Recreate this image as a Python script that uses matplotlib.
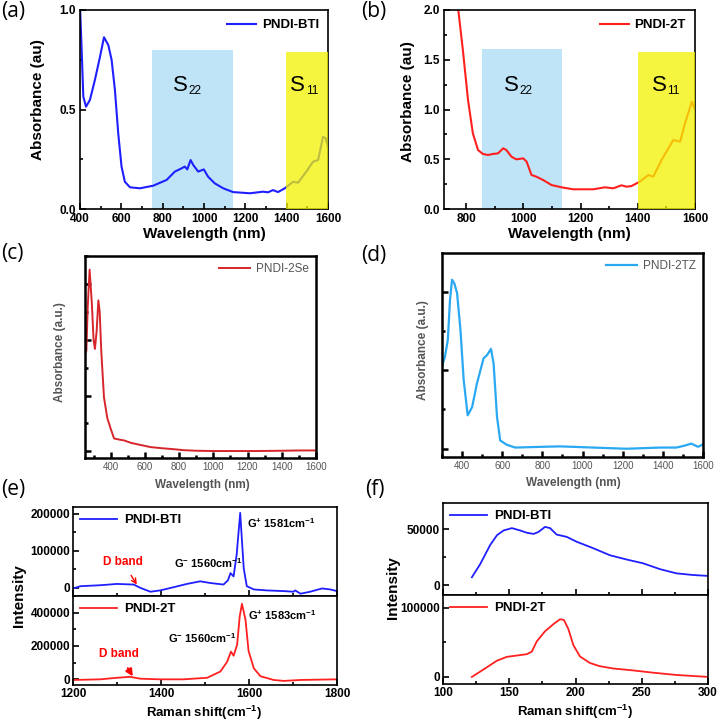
import numpy as np
import matplotlib
matplotlib.use("Agg")
import matplotlib.pyplot as plt
from matplotlib.ticker import MultipleLocator, FormatStrFormatter

plt.rcParams['font.family'] = ['Liberation Sans', 'DejaVu Sans']
plt.rcParams['mathtext.fontset'] = 'custom'
plt.rcParams['mathtext.rm'] = 'Liberation Sans'
plt.rcParams['mathtext.bf'] = 'Liberation Sans:bold'
plt.rcParams['mathtext.it'] = 'Liberation Sans:italic'

# (a) PNDI-BTI absorbance
a_wl = [400, 408, 416, 429, 448, 472, 497, 516, 537, 553, 569, 585, 601, 617, 642, 690,
        754, 819, 859, 891, 907, 919, 935, 948, 972, 999, 1020, 1052, 1093, 1141, 1222,
        1286, 1310, 1334, 1358, 1391, 1431, 1455, 1495, 1528, 1552, 1576, 1589, 1600]
a_abs = [1.02, 0.80, 0.565, 0.514, 0.548, 0.648, 0.766, 0.863, 0.824, 0.749, 0.598, 0.380,
         0.213, 0.137, 0.109, 0.104, 0.117, 0.146, 0.188, 0.204, 0.213, 0.199, 0.246, 0.221,
         0.188, 0.199, 0.162, 0.129, 0.104, 0.085, 0.079, 0.087, 0.084, 0.095, 0.085, 0.104,
         0.137, 0.132, 0.188, 0.238, 0.246, 0.363, 0.355, 0.313]

# (b) PNDI-2T absorbance
b_wl = [770, 788, 806, 823, 841, 858, 876, 893, 911, 929, 940, 958, 975, 999, 1011, 1028,
        1045, 1069, 1098, 1133, 1174, 1244, 1285, 1314, 1343, 1361, 1378, 1407, 1437, 1454,
        1483, 1524, 1548, 1565, 1589, 1600]
b_abs = [2.05, 1.598, 1.096, 0.760, 0.593, 0.553, 0.543, 0.553, 0.559, 0.610, 0.593, 0.526,
         0.499, 0.509, 0.476, 0.342, 0.325, 0.291, 0.241, 0.218, 0.198, 0.198, 0.218, 0.208,
         0.238, 0.224, 0.231, 0.275, 0.342, 0.325, 0.493, 0.693, 0.677, 0.861, 1.079, 0.995]

# (c) PNDI-2Se absorbance (arbitrary units)
c_wl = [250, 258, 266, 277, 290, 300, 308, 318, 328, 336, 345, 361, 380, 400, 420, 450,
        478, 520, 580, 634, 700, 760, 829, 900, 1000, 1122, 1250, 1400, 1500, 1600]
c_abs = [3.5, 3.6, 5.2, 6.51, 5.3, 4.0, 3.67, 4.3, 5.41, 5.0, 3.6, 1.93, 1.2, 0.81, 0.46,
         0.42, 0.39, 0.30, 0.22, 0.15, 0.11, 0.08, 0.04, 0.02, 0.01, 0.01, 0.01, 0.02, 0.03, 0.03]

# (d) PNDI-2TZ absorbance (arbitrary units)
d_wl = [300, 315, 329, 340, 350, 362, 375, 392, 408, 428, 450, 474, 507, 524, 544, 557,
        574, 590, 623, 665, 805, 888, 1053, 1219, 1385, 1467, 1509, 1542, 1575, 1600]
d_abs = [2.09, 2.35, 2.77, 3.8, 4.30, 4.2, 3.96, 3.02, 1.75, 0.85, 1.06, 1.66, 2.30, 2.38,
         2.54, 2.17, 0.81, 0.21, 0.10, 0.03, 0.05, 0.06, 0.03, 0.0, 0.03, 0.03, 0.08, 0.13,
         0.05, 0.11]

# (e) Raman G band region
e_shift_bti = [1200, 1217, 1262, 1300, 1338, 1353, 1376, 1398, 1429, 1459, 1489, 1512, 1542,
               1552, 1558, 1565, 1572, 1580, 1588, 1595, 1611, 1641, 1679, 1701, 1705, 1717,
               1739, 1766, 1785, 1800]
e_int_bti = [-1750, 4400, 7000, 10500, 8800, 0, -10500, -7000, 1750, 10500, 17500, 13000, 8800,
             20000, 39500, 30700, 90000, 201700, 52600, 4400, -4400, -7000, -8800, -10500, -7000,
             -15800, -10500, -1750, -4400, -8800]
e_shift_2t = [1200, 1262, 1300, 1330, 1353, 1398, 1451, 1505, 1535, 1550, 1559, 1565, 1573,
              1579, 1584, 1592, 1599, 1611, 1626, 1656, 1679, 1717, 1800]
e_int_2t = [-3800, 0, 9400, 15000, 3800, 0, 0, 9400, 47000, 104000, 166000, 141500, 207500,
            380000, 452800, 358500, 170000, 66000, 18900, -3800, -9400, -3800, 0]

# (f) Raman RBM region
f_shift_bti = [121.8, 128, 135.6, 140.7, 145.7, 152, 158.2, 163.2, 168.3, 172, 177, 180.8,
               185.8, 193.3, 200.9, 213.4, 226, 238.5, 251, 263.6, 276.2, 288.7, 300]
f_int_bti = [7200, 18800, 36100, 44800, 49100, 51200, 49100, 47100, 46000, 47700, 52300, 51200,
             45400, 43400, 39000, 33200, 26900, 23100, 19700, 14500, 10700, 9200, 8400]
f_shift_2t = [121.8, 130.6, 140.7, 148.2, 155.7, 163.2, 167, 170.8, 177, 183.3, 188.3, 191.3,
              194.6, 198.4, 203.4, 210.9, 218.4, 228.5, 243.5, 258.6, 276.2, 300]
f_int_2t = [0, 10800, 23500, 29100, 31000, 32900, 36600, 51600, 66200, 76500, 83600, 82600,
            69500, 46000, 29600, 20200, 15500, 12200, 9400, 6100, 2800, 0]

W, H = 719, 723
fig = plt.figure(figsize=(W / 100, H / 100), dpi=100)


def box(l, t, r, b):
    return [l / W, 1 - b / H, (r - l) / W, (b - t) / H]


def style(ax, bold=True, color='black', size=8.5, lw=1.2, pad=3):
    ax.tick_params(which='both', direction='in', width=lw, labelsize=size, colors='black',
                   labelcolor=color, pad=pad)
    ax.tick_params(which='major', length=4)
    ax.tick_params(which='minor', length=2)
    for s in ax.spines.values():
        s.set_linewidth(lw)
    for lab in ax.get_xticklabels() + ax.get_yticklabels():
        lab.set_fontweight('bold' if bold else 'normal')


def s_label(ax, x, y, sub):
    ax.text(x, y, 'S', fontsize=16, ha='right', va='center', zorder=4)
    ax.annotate(sub, xy=(x, y), xytext=(0.5, -4), textcoords='offset points', fontsize=8.5,
                ha='left', va='center', zorder=4)


BLUE = '#1f1fff'
RED = '#ff2020'
SPAN_BLUE = '#bfe4f8'
SPAN_YEL = (0.95, 0.95, 0.0)

# ---- (a)
ax = fig.add_axes(box(80, 10, 328, 209))
ax.axvspan(750, 1140, ymax=0.8, color=SPAN_BLUE, lw=0, zorder=1)
ax.plot(a_wl, a_abs, color=BLUE, lw=1.5, label='PNDI-BTI', zorder=2)
ax.axvspan(1395, 1600, ymax=0.79, color=SPAN_YEL, alpha=0.75, lw=0, zorder=3)
s_label(ax, 920, 0.62, '22')
s_label(ax, 1490, 0.62, '11')
ax.set_xlim(400, 1600)
ax.set_ylim(0, 1.0)
ax.xaxis.set_major_locator(MultipleLocator(200))
ax.xaxis.set_minor_locator(MultipleLocator(100))
ax.yaxis.set_major_locator(MultipleLocator(0.5))
ax.yaxis.set_minor_locator(MultipleLocator(0.25))
ax.yaxis.set_major_formatter(FormatStrFormatter('%.1f'))
ax.legend(loc='upper right', frameon=False, prop={'weight': 'bold', 'size': 9.5},
          handlelength=2.2, borderaxespad=0.3, handletextpad=0.4)
style(ax)
ax.set_xlabel('Wavelength (nm)', fontsize=11, fontweight='bold', labelpad=1)
fig.text(38 / W, 1 - 100 / H, 'Absorbance (au)', rotation=90, fontsize=11, fontweight='bold',
         ha='center', va='center')

# ---- (b)
ax = fig.add_axes(box(444, 10, 695, 209))
ax.axvspan(855, 1135, ymax=0.805, color=SPAN_BLUE, lw=0, zorder=1)
ax.plot(b_wl, b_abs, color=RED, lw=1.5, label='PNDI-2T', zorder=2)
ax.axvspan(1400, 1600, ymax=0.79, color=SPAN_YEL, alpha=0.75, lw=0, zorder=3)
s_label(ax, 985, 1.246, '22')
s_label(ax, 1500, 1.246, '11')
ax.set_xlim(722, 1600)
ax.set_ylim(0, 2.0)
ax.xaxis.set_major_locator(MultipleLocator(200))
ax.xaxis.set_minor_locator(MultipleLocator(100))
ax.yaxis.set_major_locator(MultipleLocator(0.5))
ax.yaxis.set_minor_locator(MultipleLocator(0.25))
ax.yaxis.set_major_formatter(FormatStrFormatter('%.1f'))
ax.legend(loc='upper right', frameon=False, prop={'weight': 'bold', 'size': 9.5},
          handlelength=2.2, borderaxespad=0.3, handletextpad=0.4)
style(ax)
ax.set_xlabel('Wavelength (nm)', fontsize=11, fontweight='bold', labelpad=1)
fig.text(408 / W, 1 - 102 / H, 'Absorbance (au)', rotation=90, fontsize=11, fontweight='bold',
         ha='center', va='center')

GRAY = '#555555'

# ---- (c)
ax = fig.add_axes(box(85, 256, 316, 458))
ax.plot(c_wl, c_abs, color='#d7262b', lw=1.4, label='PNDI-2Se')
ax.set_xlim(250, 1600)
ax.set_ylim(-0.24, 7.0)
ax.xaxis.set_major_locator(MultipleLocator(200))
ax.xaxis.set_minor_locator(MultipleLocator(100))
ax.yaxis.set_major_locator(MultipleLocator(2))
ax.yaxis.set_minor_locator(MultipleLocator(1))
ax.set_yticklabels([])
ax.legend(loc='upper right', frameon=False, prop={'size': 8.5}, labelcolor=GRAY,
          handlelength=2.6, borderaxespad=0.2, handletextpad=0.5)
style(ax, bold=False, color=GRAY, size=7, lw=1.8)
ax.set_xticks([400, 600, 800, 1000, 1200, 1400, 1600])
fig.text(202 / W, 1 - 485 / H, 'Wavelength (nm)', fontsize=8.5, fontweight='bold', color=GRAY,
         ha='center', va='center')
fig.text(60 / W, 1 - 352 / H, 'Absorbance (a.u.)', rotation=90, fontsize=8.5, fontweight='bold',
         color=GRAY, ha='center', va='center')

# ---- (d)
ax = fig.add_axes(box(442, 253, 703, 457))
ax.plot(d_wl, d_abs, color='#2aa9f2', lw=1.6, label='PNDI-2TZ')
ax.set_xlim(300, 1600)
ax.set_ylim(-0.21, 4.98)
ax.xaxis.set_major_locator(MultipleLocator(200))
ax.xaxis.set_minor_locator(MultipleLocator(100))
ax.yaxis.set_major_locator(MultipleLocator(2))
ax.yaxis.set_minor_locator(MultipleLocator(1))
ax.set_yticklabels([])
ax.legend(loc='upper right', frameon=False, prop={'size': 8.5}, labelcolor=GRAY,
          handlelength=2.6, borderaxespad=0.2, handletextpad=0.5)
style(ax, bold=False, color=GRAY, size=7, lw=1.8)
ax.set_xticks([400, 600, 800, 1000, 1200, 1400, 1600])
fig.text(573 / W, 1 - 483 / H, 'Wavelength (nm)', fontsize=8.5, fontweight='bold', color=GRAY,
         ha='center', va='center')
fig.text(423 / W, 1 - 350 / H, 'Absorbance (a.u.)', rotation=90, fontsize=8.5, fontweight='bold',
         color=GRAY, ha='center', va='center')

# ---- (e)
ax1 = fig.add_axes(box(73, 507, 337, 596))
ax2 = fig.add_axes(box(73, 596, 337, 685), sharex=ax1)
ax1.plot(e_shift_bti, e_int_bti, color=BLUE, lw=1.3, label='PNDI-BTI')
ax2.plot(e_shift_2t, e_int_2t, color=RED, lw=1.3, label='PNDI-2T')
ax1.set_xlim(1200, 1800)
ax1.set_ylim(-22000, 217500)
ax2.set_ylim(-34000, 500000)
ax1.xaxis.set_major_locator(MultipleLocator(200))
ax1.xaxis.set_minor_locator(MultipleLocator(100))
ax1.yaxis.set_major_locator(MultipleLocator(100000))
ax1.yaxis.set_minor_locator(MultipleLocator(50000))
ax2.yaxis.set_major_locator(MultipleLocator(200000))
ax2.yaxis.set_minor_locator(MultipleLocator(100000))
ax1.tick_params(labelbottom=False)
for a in (ax1, ax2):
    a.legend(loc='upper left', frameon=False, prop={'weight': 'bold', 'size': 9.5},
             handlelength=2.8, borderaxespad=0.15, handletextpad=0.5)
    style(a, size=8.5, pad=2)
ax1.text(1595, 175000, r'G$^{\mathbf{+}}$ 1581cm$^{\mathbf{-1}}$', fontsize=8, fontweight='bold',
         va='center')
ax1.text(1429, 66000, r'G$^{\mathbf{-}}$ 1560cm$^{\mathbf{-1}}$', fontsize=8, fontweight='bold',
         va='center')
ax1.annotate('D band', xy=(1345, 8800), xytext=(1313, 70000), color='red', fontsize=8.5,
             fontweight='bold', ha='center', va='center',
             arrowprops=dict(arrowstyle='->', color='red', lw=1, shrinkA=4, shrinkB=0))
ax2.text(1597, 386800, r'G$^{\mathbf{+}}$ 1583cm$^{\mathbf{-1}}$', fontsize=8, fontweight='bold',
         va='center')
ax2.text(1417, 245000, r'G$^{\mathbf{-}}$ 1560cm$^{\mathbf{-1}}$', fontsize=8, fontweight='bold',
         va='center')
ax2.annotate('D band', xy=(1336, 18000), xytext=(1304, 154700), color='red', fontsize=8.5,
             fontweight='bold', ha='center', va='center',
             arrowprops=dict(arrowstyle='-|>', color='red', lw=1.5, shrinkA=5, shrinkB=0,
                             mutation_scale=10))
fig.text(204 / W, 1 - 713 / H, r'Raman shift(cm$^{\mathbf{-1}}$)', fontsize=9.5,
         fontweight='bold', ha='center', va='center')
fig.text(19 / W, 1 - 596 / H, 'Intensity', rotation=90, fontsize=11, fontweight='bold',
         ha='center', va='center')

# ---- (f)
ax1 = fig.add_axes(box(443, 503, 708, 595))
ax2 = fig.add_axes(box(443, 595, 708, 684), sharex=ax1)
ax1.plot(f_shift_bti, f_int_bti, color=BLUE, lw=1.3, label='PNDI-BTI')
ax2.plot(f_shift_2t, f_int_2t, color=RED, lw=1.3, label='PNDI-2T')
ax1.set_xlim(100, 300)
ax1.set_ylim(-8700, 73700)
ax2.set_ylim(-10300, 118800)
ax1.xaxis.set_major_locator(MultipleLocator(50))
ax1.xaxis.set_minor_locator(MultipleLocator(25))
ax1.yaxis.set_major_locator(MultipleLocator(50000))
ax1.yaxis.set_minor_locator(MultipleLocator(25000))
ax2.yaxis.set_major_locator(MultipleLocator(100000))
ax2.yaxis.set_minor_locator(MultipleLocator(50000))
ax1.tick_params(labelbottom=False)
for a in (ax1, ax2):
    a.legend(loc='upper left', frameon=False, prop={'weight': 'bold', 'size': 9.5},
             handlelength=2.8, borderaxespad=0.15, handletextpad=0.5)
    style(a, size=8.5, pad=2)
fig.text(575 / W, 1 - 712 / H, r'Raman shift(cm$^{\mathbf{-1}}$)', fontsize=9.5,
         fontweight='bold', ha='center', va='center')
fig.text(393 / W, 1 - 588 / H, 'Intensity', rotation=90, fontsize=11, fontweight='bold',
         ha='center', va='center')

# panel labels
for lab, x, y in [('(a)', 1, 12), ('(b)', 361, 12), ('(c)', 1, 254), ('(d)', 361, 255),
                  ('(e)', 1, 490), ('(f)', 365, 490)]:
    fig.text(x / W, 1 - y / H, lab, fontsize=15, ha='left', va='center',
             family=['Open Sans', 'DejaVu Sans'])

fig.savefig('out.png', dpi=100)
